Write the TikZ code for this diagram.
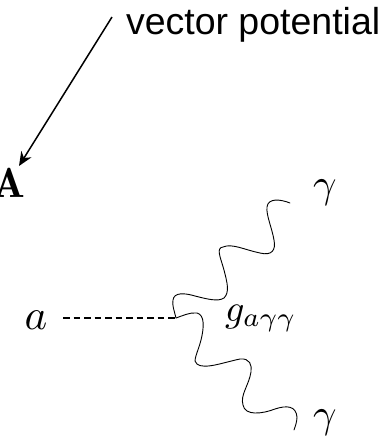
\documentclass[tikz,border=0pt]{standalone}
\usepackage{fontspec}
\usepackage{amsmath}
\newfontfamily\labelfont{Liberation Sans}
\usetikzlibrary{arrows.meta}
\tikzset{
  txt/.style={inner sep=0pt,outer sep=0pt,text=black},
  photon/.style={draw=black,line width=0.9pt,line cap=round},
  axion/.style={draw=black,line width=2.4pt,dash pattern=on 6.5pt off 4pt},
  pointer/.style={draw=black,line width=1.5pt,-{Stealth[length=14pt,width=12pt]}}
}
\begin{document}
\begin{tikzpicture}[x=1pt,y=-1pt]
\useasboundingbox (0,0) rectangle (391,440);
\node[txt,anchor=base west,font=\labelfont\fontsize{37.5}{40}\selectfont] (vp) at (126,34) {vector potential};
\node[txt,anchor=base,scale=4.2] (A) at (9,197) {$\mathbf{A}$};
\node[txt,anchor=base,scale=4.3] (aa) at (36,329) {$a$};
\node[txt,anchor=base west,scale=3.8] (g) at (225,321) {$g_{a\gamma\gamma}$};
\node[txt,anchor=base,scale=4.1] (g1) at (325,197) {$\gamma$};
\node[txt,anchor=base,scale=4.1] (g2) at (325,427) {$\gamma$};
\coordinate (ps) at (112,17);
\coordinate (pe) at (19,166);
\coordinate (ds) at (63,318);
\coordinate (v) at (176,318);
\draw[pointer] (ps) -- (pe);
\draw[axion] (ds) -- (v);
\draw[photon] (v) .. controls (174,310) and (172,305) .. (173,300)
  .. controls (174,292) and (185,293) .. (195,296)
  .. controls (207,299) and (218,302) .. (224,298)
  .. controls (230,292) and (227,282) .. (224,270)
  .. controls (220,256) and (216,248) .. (223,247)
  .. controls (232,243) and (245,250) .. (260,253)
  .. controls (272,256) and (276,250) .. (274,240)
  .. controls (272,228) and (266,215) .. (267,207)
  .. controls (268,198) and (280,199) .. (290,203);
\draw[photon] (v) .. controls (182,316) and (190,312) .. (197,313)
  .. controls (205,315) and (204,328) .. (201,340)
  .. controls (198,352) and (192,362) .. (197,364)
  .. controls (204,370) and (225,362) .. (240,359)
  .. controls (250,358) and (252,365) .. (251,372)
  .. controls (249,385) and (240,395) .. (243,405)
  .. controls (245,416) and (262,414) .. (275,409)
  .. controls (287,405) and (296,406) .. (297,417)
  .. controls (297,422) and (295,427) .. (294,430);
\end{tikzpicture}
\end{document}
